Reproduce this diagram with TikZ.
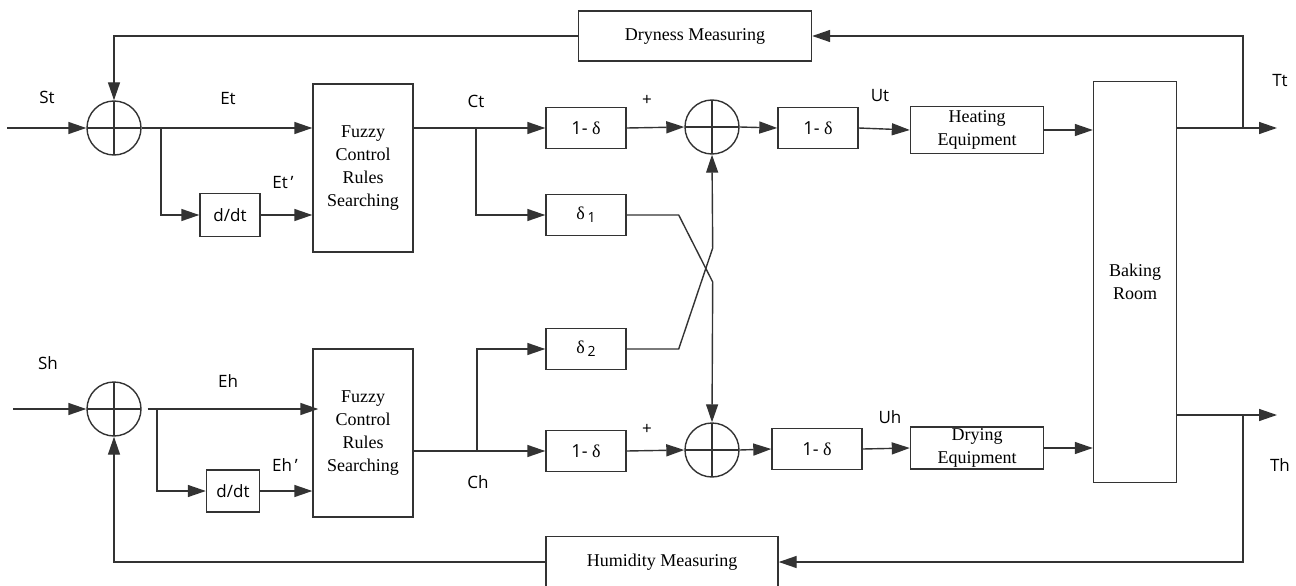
\documentclass[tikz,border=0pt]{standalone}
\usepackage{fontspec}
\setmainfont{Liberation Serif}
\newfontfamily\lblfont{Open Sans}
\usetikzlibrary{arrows.meta,positioning,calc}

\begin{document}
\begin{tikzpicture}[
    x=1pt, y=-1pt,
    blk/.style={draw=black!80, line width=1.4pt, fill=white, align=center, inner sep=0pt, font=\fontsize{18}{23}\selectfont},
    fz/.style={blk, minimum width=100pt, minimum height=168pt, font=\fontsize{18}{23}\selectfont},
    gain/.style={blk, minimum width=80pt, minimum height=41pt, font=\fontsize{18}{20}\selectfont},
    dev/.style={blk, minimum width=133pt},
    meas/.style={blk, minimum width=233pt, minimum height=50pt},
    sum/.style={circle, draw=black!80, line width=1.4pt, minimum size=54pt, inner sep=0pt,
        path picture={\draw[black!80, line width=1.2pt] (path picture bounding box.north) -- (path picture bounding box.south)
            (path picture bounding box.west) -- (path picture bounding box.east);}},
    conn/.style={-{Triangle[length=18pt,width=12pt]}, line width=1.4pt, draw=black!80},
    lbl/.style={font=\lblfont\fontsize{17}{20}\selectfont, inner sep=0pt},
]
\useasboundingbox (0,0) rectangle (1296,586);

% --- Left column: summing points, derivatives, fuzzy rules ---
\node[sum] (sumt) at (114,128) {};
\node[sum] (sumh) at (114,409) {};
\node[blk, minimum width=60pt, minimum height=43pt, font=\lblfont\fontsize{17}{20}\selectfont] (ddt) at (230,215) {d/dt};
\node[blk, minimum width=53pt, minimum height=42pt, font=\lblfont\fontsize{17}{20}\selectfont] (ddh) at (233,491) {d/dt};
\node[fz] (fzt) at (363,168) {Fuzzy\\Control\\Rules\\Searching};
\node[fz] (fzh) at (363,433) {Fuzzy\\Control\\Rules\\Searching};

% --- Middle column: weights and coupling ---
\node[gain] (ot)  at (586,128) {{\lblfont 1-} δ};
\node[gain] (dt1) at (586,215) {δ\,{\lblfont\fontsize{14}{14}\selectfont\raisebox{-3pt}{1}}};
\node[gain] (dt2) at (586,349) {δ\,{\lblfont\fontsize{14}{14}\selectfont\raisebox{-3pt}{2}}};
\node[gain] (oh)  at (586,451) {{\lblfont 1-} δ};
\node[sum] (smt) at (712,127) {};
\node[sum] (smh) at (712,450) {};
\node[gain] (gt) at (818,128) {{\lblfont 1-} δ};
\node[gain, minimum width=90pt] (gh) at (817,449) {{\lblfont 1-} δ};

% --- Right column: equipment + room ---
\node[dev, minimum height=47pt] (heat) at (977,130) {Heating\\Equipment};
\node[dev, minimum height=42pt] (dry)  at (977,448) {Drying\\Equipment};
\node[blk, minimum width=83pt, minimum height=401pt] (room) at (1135,282) {Baking\\Room};

% --- Measuring boxes ---
\node[meas] (dryness) at (695,36) {Dryness Measuring};
\node[meas, minimum width=232pt, minimum height=51pt] (humid) at (662,562) {Humidity Measuring};

% === Temperature loop (top) ===
\coordinate (stin) at (7,128);
\draw[conn] (stin) -- (sumt.west);
\draw[conn] (sumt.east) -- (sumt.east -| fzt.west);
\coordinate (bt) at (161,128);
\draw[conn] (bt) |- (ddt.west);
\draw[conn] (ddt.east) -- (ddt.east -| fzt.west);
\draw[conn] (fzt.east |- ot) -- (ot.west);
\coordinate (ct) at (476,128);
\draw[conn] (ct) |- (dt1.west);
\draw[conn] (ot.east) -- (smt.west);
\draw[conn] (smt.east) -- (gt.west);
\draw[conn] (gt.east) -- (heat.west);
\draw[conn] (heat.east) -- (heat.east -| room.west);

% === Humidity loop (bottom) ===
\coordinate (shin) at (13,409);
\draw[conn] (shin) -- (sumh.west);
\draw[conn] ([xshift=6pt]sumh.east) -- ([xshift=6pt]sumh.east -| fzh.west);
\coordinate (bh) at (157,409);
\draw[conn] (bh) |- (ddh.west);
\draw[conn] (ddh.east) -- (ddh.east -| fzh.west);
\draw[conn] (fzh.east |- oh) -- (oh.west);
\coordinate (ch) at (477,451);
\draw[conn] (ch) |- (dt2.west);
\draw[conn] (oh.east) -- (smh.west);
\draw[conn] (smh.east) -- (gh.west);
\draw[conn] (gh.east) -- (dry.west);
\draw[conn] (dry.east) -- (dry.east -| room.west);

% === Cross coupling ===
\draw[conn] (dt1.east) -- ++(52,0) -- ++(34,67) -- (smh.north);
\draw[conn] (dt2.east) -- ++(52,0) -- ++(34,-101) -- (smt.south);

% === Outputs and feedback ===
\coordinate (tt) at (1277,128);
\coordinate (th) at (1277,415);
\draw[conn] (room.east |- tt) -- (tt);
\draw[conn] (room.east |- th) -- (th);
\coordinate (ft) at (1243,128);
\coordinate (fh) at (1243,415);
\draw[conn] (ft) |- (dryness.east);
\draw[conn] (dryness.west) -| (sumt.north);
\draw[conn] (fh) |- (humid.east);
\draw[conn] (humid.west) -| (sumh.south);

% --- Signal labels ---
\node[lbl] (lst) at (47,97) {St};
\node[lbl] (let) at (228,99) {Et};
\node[lbl] (letd) at (283,183) {Et\,’};
\node[lbl] (lsh) at (48,363) {Sh};
\node[lbl] (leh) at (228,381) {Eh};
\node[lbl] (lehd) at (285,465) {Eh\,’};
\node[lbl] (lct) at (476,101) {Ct};
\node[lbl] (lch) at (478,482) {Ch};
\node[lbl] (lpt) at (647,100) {+};
\node[lbl] (lph) at (647,429) {+};
\node[lbl] (lut) at (880,96) {Ut};
\node[lbl] (luh) at (890,417) {Uh};
\node[lbl] (ltt) at (1280,81) {Tt};
\node[lbl] (lth) at (1280,465) {Th};
\end{tikzpicture}
\end{document}
